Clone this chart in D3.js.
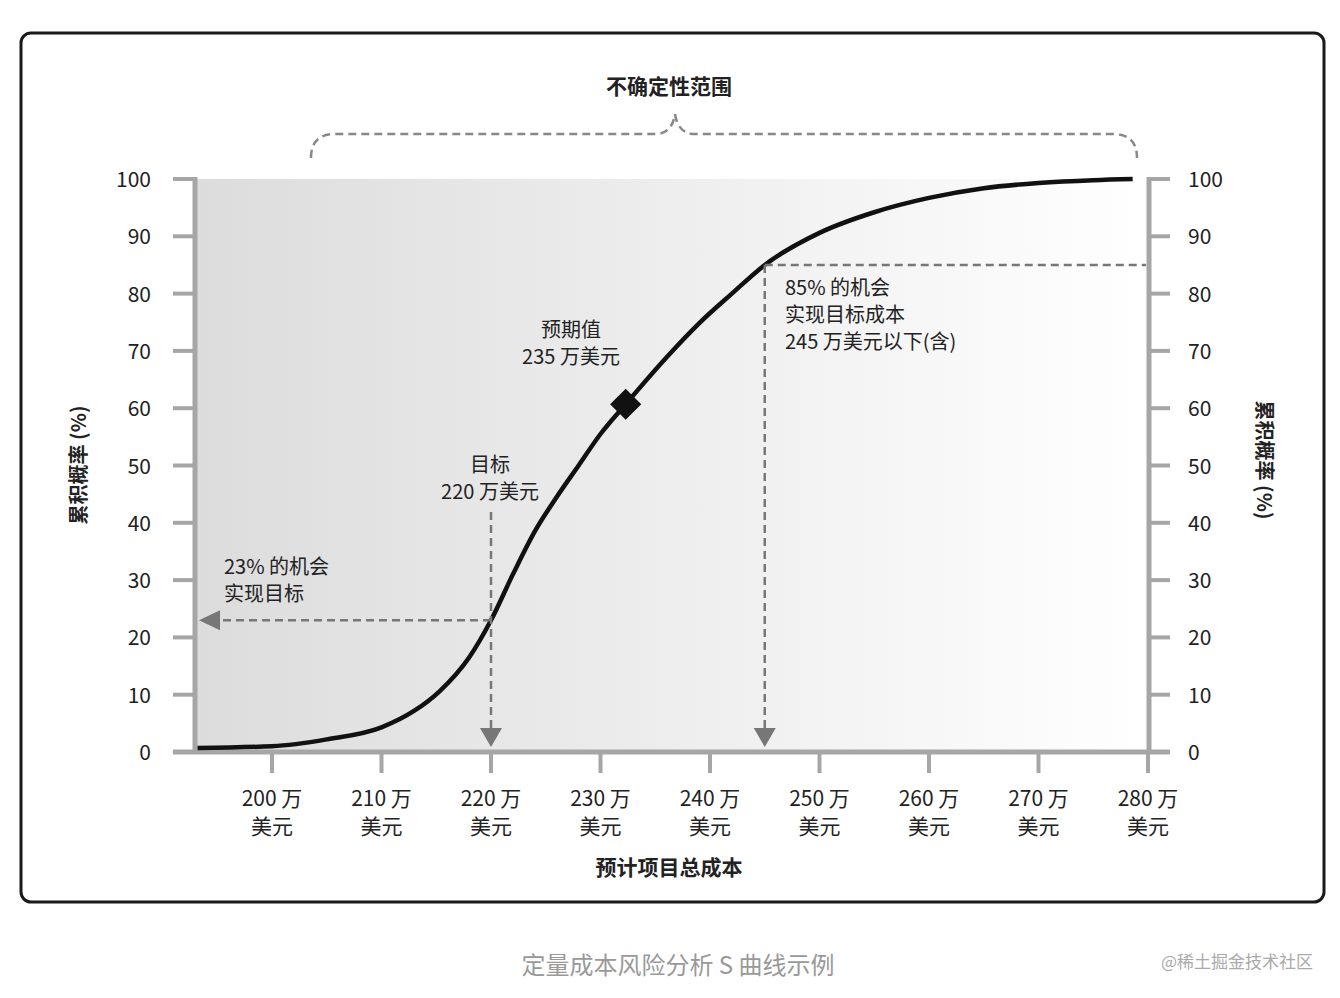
<!DOCTYPE html>
<html><head><meta charset="utf-8">
<script src="https://cdn.jsdelivr.net/npm/d3@7"></script>
<style>body{margin:0;background:#fff}text{font-family:"Noto Sans CJK SC","Noto Sans",sans-serif}</style>
</head><body><svg id="c" width="1340" height="998"></svg>
<script>
const costs=[193.2,200,205,210,213,215.3,218,220,222,224,226,228,230,232.3,236,239,242,245,250,255,260,265,270,275,278.6];
const probs=[0.7,1.0,2.2,4.3,7.2,10.6,16.5,23,31,38.5,44.5,50,55.5,60.7,68.8,74.8,80,85,90.6,94.2,96.7,98.4,99.3,99.8,100];
const xTicks=[200,210,220,230,240,250,260,270,280];
const yTicks=[0,10,20,30,40,50,60,70,80,90,100];
const svg=d3.select("#c");
const x=d3.scaleLinear().domain([200,280]).range([272,1148]);
const y=d3.scaleLinear().domain([0,100]).range([752,179]);
const ax="#a6a6a6";
svg.append("rect").attr("x",21).attr("y",33).attr("width",1303).attr("height",869).attr("rx",10).attr("fill","#fff").attr("stroke","#1a1a1a").attr("stroke-width",3);
const g=svg.append("defs").append("linearGradient").attr("id","gr");
g.append("stop").attr("offset","0").attr("stop-color","#dcdcdc");
g.append("stop").attr("offset","1").attr("stop-color","#ffffff");
svg.append("rect").attr("x",193).attr("y",179).attr("width",956).attr("height",573).attr("fill","url(#gr)");
const la=svg.append("g");
la.append("line").attr("x1",195).attr("x2",195).attr("y1",177).attr("y2",754).attr("stroke",ax).attr("stroke-width",5);
la.append("line").attr("x1",1149).attr("x2",1149).attr("y1",177).attr("y2",754).attr("stroke",ax).attr("stroke-width",5);
la.append("line").attr("x1",173).attr("x2",1170).attr("y1",752).attr("y2",752).attr("stroke",ax).attr("stroke-width",5);
yTicks.forEach(t=>{
 la.append("line").attr("x1",173).attr("x2",195).attr("y1",y(t)).attr("y2",y(t)).attr("stroke",ax).attr("stroke-width",4);
 la.append("line").attr("x1",1149).attr("x2",1170).attr("y1",y(t)).attr("y2",y(t)).attr("stroke",ax).attr("stroke-width",4);
 la.append("text").attr("x",151).attr("y",y(t)+8).attr("text-anchor","end").attr("font-size",21).attr("fill","#222").text(t);
 la.append("text").attr("x",1188).attr("y",y(t)+8).attr("font-size",21).attr("fill","#222").text(t);
});
xTicks.forEach(t=>{
 la.append("line").attr("x1",x(t)).attr("x2",x(t)).attr("y1",752).attr("y2",773).attr("stroke",ax).attr("stroke-width",4);
 la.append("text").attr("x",x(t)).attr("y",806).attr("text-anchor","middle").attr("font-size",21).attr("fill","#222").text(t+" 万");
 la.append("text").attr("x",x(t)).attr("y",834).attr("text-anchor","middle").attr("font-size",21).attr("fill","#222").text("美元");
});
svg.append("text").attr("x",669).attr("y",875).attr("text-anchor","middle").attr("font-size",21).attr("font-weight","bold").attr("fill","#222").text("预计项目总成本");
svg.append("text").attr("transform","translate(86,465) rotate(-90)").attr("text-anchor","middle").attr("font-size",20).attr("font-weight","bold").attr("fill","#222").text("累积概率 (%)");
svg.append("text").attr("transform","translate(1257,460) rotate(90)").attr("text-anchor","middle").attr("font-size",20).attr("font-weight","bold").attr("fill","#222").text("累积概率 (%)");
svg.append("text").attr("x",669).attr("y",94).attr("text-anchor","middle").attr("font-size",21).attr("font-weight","bold").attr("fill","#222").text("不确定性范围");
svg.append("path").attr("d","M311,158 Q311,134 335,134 L655,134 Q672,134 675,114 Q678,134 695,134 L1113,134 Q1137,134 1137,158").attr("fill","none").attr("stroke","#888").attr("stroke-width",2.5).attr("stroke-dasharray","8,5");
const data=costs.map((c,i)=>[c,probs[i]]);
svg.append("path").datum(data).attr("d",d3.line().x(d=>x(d[0])).y(d=>y(d[1])).curve(d3.curveMonotoneX)).attr("fill","none").attr("stroke","#111").attr("stroke-width",4.5);
const dg="#777";
const dash=(x1,y1,x2,y2)=>svg.append("line").attr("x1",x1).attr("y1",y1).attr("x2",x2).attr("y2",y2).attr("stroke",dg).attr("stroke-width",2.5).attr("stroke-dasharray","8,5");
dash(x(220),512,x(220),732); dash(x(220),y(23),218,y(23));
dash(x(245),y(85),x(245),732); dash(x(245),y(85),1146,y(85));
const tri=(pts)=>svg.append("path").attr("d","M"+pts.join("L")+"Z").attr("fill",dg);
tri([[x(220)-11,728],[x(220)+11,728],[x(220),747]]);
tri([[x(245)-11,728],[x(245)+11,728],[x(245),747]]);
tri([[220,y(23)-10],[220,y(23)+10],[199,y(23)]]);
svg.append("rect").attr("x",-11).attr("y",-11).attr("width",22).attr("height",22).attr("fill","#111").attr("transform",`translate(${x(232.3)},${y(60.7)}) rotate(45)`);
const lbl=(tx,ty,lines,anchor)=>lines.forEach((l,i)=>svg.append("text").attr("x",tx).attr("y",ty+i*27).attr("text-anchor",anchor).attr("font-size",20).attr("fill","#222").text(l));
lbl(571,337,["预期值","235 万美元"],"middle");
lbl(490,472,["目标","220 万美元"],"middle");
lbl(224,574,["23% 的机会","实现目标"],"start");
lbl(785,295,["85% 的机会","实现目标成本","245 万美元以下(含)"],"start");
svg.append("text").attr("x",678).attr("y",974).attr("text-anchor","middle").attr("font-size",24).attr("fill","#999").text("定量成本风险分析 S 曲线示例");
svg.append("text").attr("x",1313).attr("y",968).attr("text-anchor","end").attr("font-size",17).attr("fill","#aaa").text("@稀土掘金技术社区");
</script></body></html>
